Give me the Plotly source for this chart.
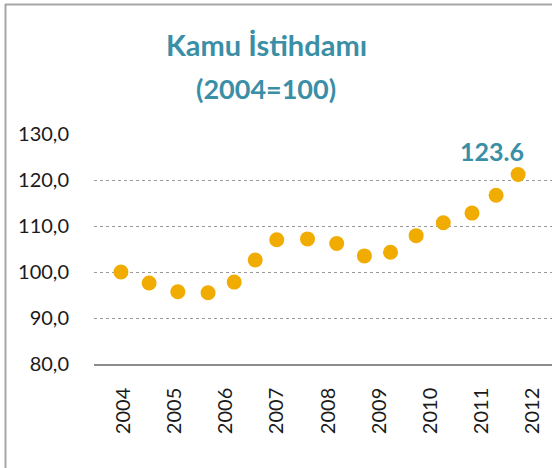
import plotly.graph_objects as go

# ---- data ----
x_time = [2003.96, 2004.51, 2005.07, 2005.66, 2006.17, 2006.58, 2007.00, 2007.60,
          2008.17, 2008.71, 2009.22, 2009.72, 2010.25, 2010.81, 2011.28, 2011.71]
index_values = [100.0, 97.6, 95.7, 95.5, 97.8, 102.6, 107.0, 107.2,
                106.2, 103.5, 104.3, 107.9, 110.7, 112.8, 116.7, 121.2]
year_ticks = [2004, 2005, 2006, 2007, 2008, 2009, 2010, 2011, 2012]
year_labels = ["2004", "2005", "2006", "2007", "2008", "2009", "2010", "2011", "2012"]
y_ticks = [80, 90, 100, 110, 120, 130]
y_labels = ["80,0", "90,0", "100,0", "110,0", "120,0", "130,0"]
title_line1 = "Kamu İstihdamı"
title_line2 = "(2004=100)"
last_label = "123.6"

TEAL = "#3A8FA6"
ORANGE = "#F0AC00"
W, H = 552, 468
L, R, T, B = 94, 0, 134, 104
pw, ph = W - L - R, H - T - B

def px(xp):
    return (xp - L) / pw

def py(yp):
    return (H - B - yp) / ph

fig = go.Figure()
fig.add_trace(go.Scatter(
    x=x_time, y=index_values, mode="markers",
    marker=dict(size=15, color=ORANGE, line=dict(width=0)),
    hoverinfo="x+y", showlegend=False,
))

fig.update_layout(
    width=W, height=H,
    margin=dict(l=L, r=R, t=T, b=B, pad=0),
    paper_bgcolor="white", plot_bgcolor="white",
    font=dict(family="Lato, DejaVu Sans, sans-serif", color="#1a1a1a"),
    xaxis=dict(
        range=[2003.434, 2012.371],
        tickmode="array", tickvals=year_ticks, ticktext=year_labels,
        tickangle=-90, tickfont=dict(size=20, color="#1a1a1a"),
        showgrid=False, zeroline=False,
        showline=True, linecolor="#8c8c8c", linewidth=1.5,
        ticks="", ticklabelstandoff=14,
    ),
    yaxis=dict(
        range=[80, 130],
        tickmode="array", tickvals=y_ticks, ticktext=y_labels,
        tickfont=dict(size=20, color="#1a1a1a"),
        showgrid=True, gridcolor="#9a9a9a", gridwidth=1, griddash="dot",
        zeroline=False, showline=False, ticks="", ticklabelstandoff=24,
    ),
    shapes=[
        dict(type="line", xref="paper", yref="paper",
             x0=px(5.5), x1=px(5.5), y0=py(4), y1=py(470),
             line=dict(color="#a6a6a6", width=2)),
        dict(type="line", xref="paper", yref="paper",
             x0=px(5), x1=px(553), y0=py(4.5), y1=py(4.5),
             line=dict(color="#a6a6a6", width=2)),
    ],
    annotations=[
        dict(text=f"<b>{title_line1}</b>", xref="paper", yref="paper",
             x=px(266), y=py(44), xanchor="center", yanchor="middle",
             showarrow=False, font=dict(size=29, color=TEAL, family="Lato")),
        dict(text=f"<b>{title_line2}</b>", xref="paper", yref="paper",
             x=px(266), y=py(88), xanchor="center", yanchor="middle",
             showarrow=False, font=dict(size=27, color=TEAL, family="Lato")),
        dict(text=f"<b>{last_label}</b>", xref="x", yref="y",
             x=x_time[-1], y=index_values[-1], xshift=-26, yshift=23,
             xanchor="center", yanchor="middle",
             showarrow=False, font=dict(size=25, color=TEAL, family="Lato")),
    ],
)

fig.write_html("out.html",
               config={"displayModeBar": False},
               post_script="document.body.style.margin='0';document.body.style.padding='0';")
